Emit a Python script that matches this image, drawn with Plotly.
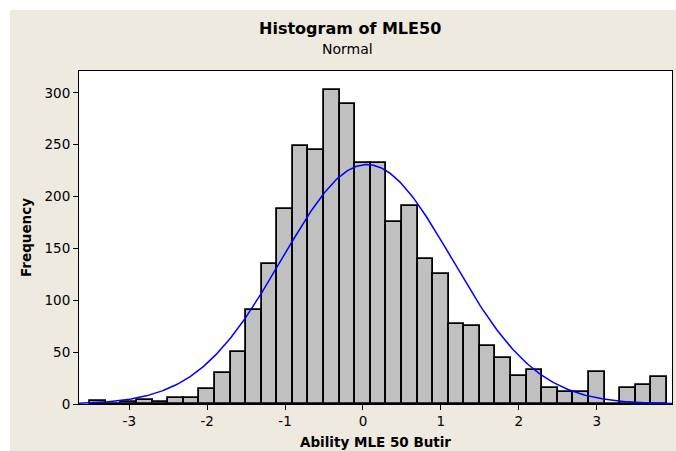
import numpy as np
import plotly.graph_objects as go

# ---- data ----
bin_centers = [-3.4, -3.2, -3.0, -2.8, -2.6, -2.4, -2.2, -2.0, -1.8, -1.6,
               -1.4, -1.2, -1.0, -0.8, -0.6, -0.4, -0.2, 0.0, 0.2, 0.4,
               0.6, 0.8, 1.0, 1.2, 1.4, 1.6, 1.8, 2.0, 2.2, 2.4,
               2.6, 2.8, 3.0, 3.2, 3.4, 3.6, 3.8]
counts = [3, 0, 2, 4, 2, 6, 6, 14, 30, 50,
          91, 135, 188, 249, 245, 303, 289, 232, 232, 175,
          191, 140, 125, 77, 75, 56, 44, 27, 33, 15,
          12, 12, 31, 0, 15, 18, 26]
bin_width = 0.2
fit_mean = 0.05
fit_sd = 1.09
x_ticks = [-3, -2, -1, 0, 1, 2, 3]
y_ticks = [0, 50, 100, 150, 200, 250, 300]

title_text = "Histogram of MLE50"
subtitle_text = "Normal"
x_title = "Ability MLE 50 Butir"
y_title = "Frequency"

# ---- figure ----
W, H = 676, 451
ml, mr, mt, mb = 79, 4, 71, 47
pw, ph = W - ml - mr, H - mt - mb
x_range = [-3.645, 3.966]
y_range = [0, 321]

def px_x(p):
    return (p - ml) / pw

def px_y(p):
    return (H - mb - p) / ph

FONT = "DejaVu Sans"
beige = "#EEEAE0"

n_total = sum(counts)
xc = np.linspace(x_range[0], x_range[1], 400)
yc = n_total * bin_width / (fit_sd * np.sqrt(2 * np.pi)) * np.exp(-0.5 * ((xc - fit_mean) / fit_sd) ** 2)

fig = go.Figure()
fig.add_trace(go.Bar(
    x=bin_centers, y=counts, width=bin_width,
    marker=dict(color="#C0C0C0", line=dict(color="black", width=1.8)),
    hoverinfo="x+y", showlegend=False,
))
fig.add_trace(go.Scatter(
    x=xc, y=yc, mode="lines",
    line=dict(color="#0000FF", width=1.5),
    showlegend=False, hoverinfo="skip",
))

fig.update_layout(
    width=W, height=H,
    margin=dict(l=ml, r=mr, t=mt, b=mb, pad=0),
    paper_bgcolor=beige, plot_bgcolor="white",
    bargap=0,
    font=dict(family=FONT, color="black", size=13),
    shapes=[
        dict(type="rect", xref="paper", yref="paper",
             x0=-0.3, x1=1.2, y0=px_y(10), y1=px_y(-20),
             fillcolor="white", line=dict(width=0), layer="below"),
        dict(type="rect", xref="paper", yref="paper",
             x0=px_x(-20), x1=px_x(10), y0=-0.3, y1=1.4,
             fillcolor="white", line=dict(width=0), layer="below"),
    ],
    annotations=[
        dict(text="<b>" + title_text + "</b>", xref="paper", yref="paper",
             x=px_x(349.5), y=px_y(29), xanchor="center", yanchor="middle",
             showarrow=False, font=dict(size=16, family=FONT)),
        dict(text=subtitle_text, xref="paper", yref="paper",
             x=px_x(347.5), y=px_y(49), xanchor="center", yanchor="middle",
             showarrow=False, font=dict(size=14, family=FONT)),
        dict(text="<b>" + x_title + "</b>", xref="paper", yref="paper",
             x=px_x(375.5), y=px_y(442), xanchor="center", yanchor="middle",
             showarrow=False, font=dict(size=13.5, family=FONT)),
        dict(text="<b>" + y_title + "</b>", xref="paper", yref="paper",
             x=px_x(25.5), y=px_y(237.5), xanchor="center", yanchor="middle",
             textangle=-90, showarrow=False, font=dict(size=13.5, family=FONT)),
    ],
)

fig.update_xaxes(
    range=x_range, tickmode="array", tickvals=x_ticks,
    ticktext=[str(v) for v in x_ticks],
    showgrid=False, zeroline=False,
    showline=True, linecolor="black", linewidth=1, mirror=True,
    ticks="outside", ticklen=5, tickwidth=1, tickcolor="black",
    tickfont=dict(size=13.5, family=FONT),
)
fig.update_yaxes(
    range=y_range, tickmode="array", tickvals=y_ticks,
    ticktext=[str(v) for v in y_ticks],
    showgrid=False, zeroline=False,
    showline=True, linecolor="black", linewidth=1, mirror=True,
    ticks="outside", ticklen=5, tickwidth=1, tickcolor="black",
    tickfont=dict(size=13.5, family=FONT),
)

fig.write_html(
    "out.html",
    config={"displayModeBar": False},
    post_script="document.body.style.margin='0';document.body.style.padding='0';document.body.style.overflow='hidden';",
)
